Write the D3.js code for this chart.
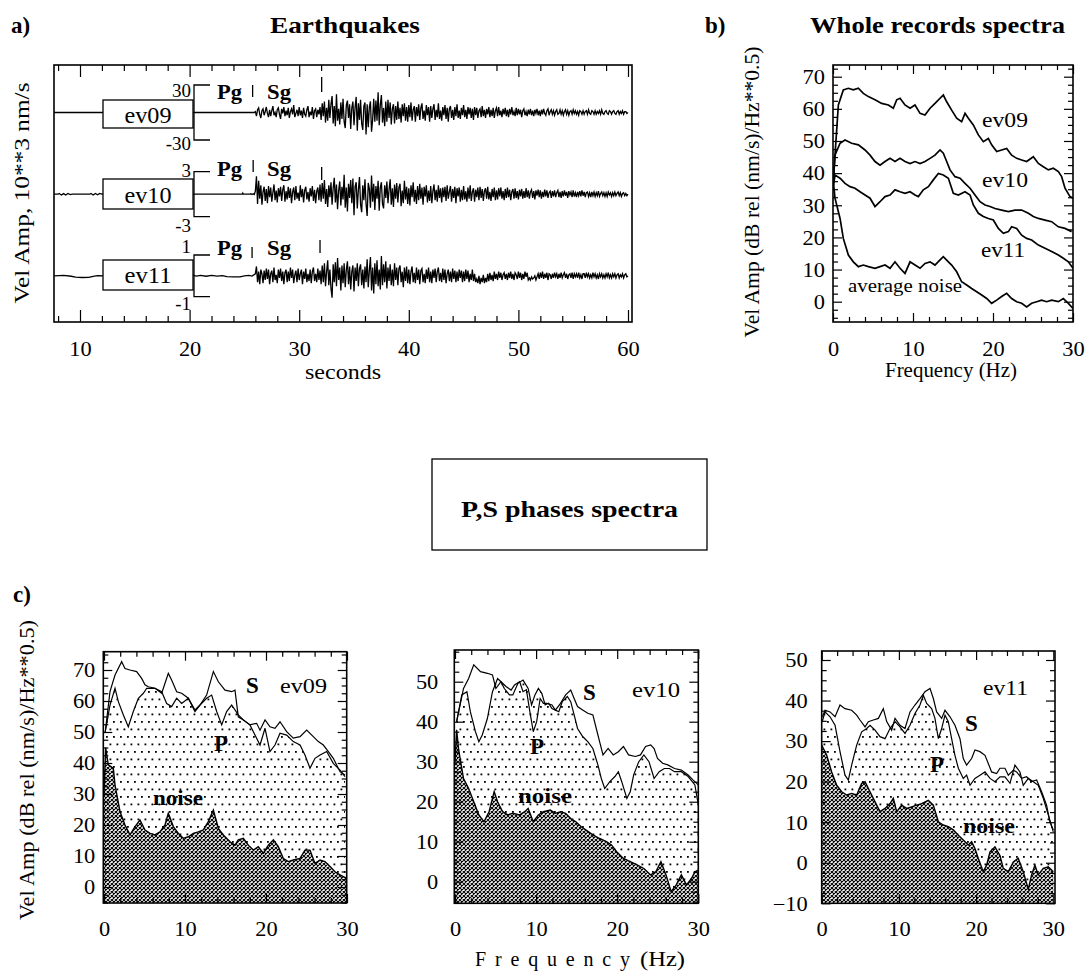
<!DOCTYPE html>
<html><head><meta charset="utf-8">
<script src="https://cdn.jsdelivr.net/npm/d3@7"></script>
<style>
body{margin:0;background:#fff;}
</style></head><body>
<svg id="chart" width="1085" height="973" font-family="'Liberation Serif', 'Times New Roman', Times, serif"></svg>
<script>
// ================= DATA =================
// Panel a: seismograms (units 10**3 nm/s), sampled every seisStep s from seisStart
const seisNames = ["ev09", "ev10", "ev11"];
const seisScale = [30, 3, 1];
const seisScaleLabels = [["30", "-30"], ["3", "-3"], ["1", "-1"]];
const seisStart = 26.0, seisStep = 0.1;
const pArrival = [25.75, 25.8, 25.7];
const sArrival = [32.05, 32.05, 31.9];
const timeTicks = [10, 20, 30, 40, 50, 60];
const timeMinorTicks = [8, 12, 14, 16, 18, 22, 24, 26, 28, 32, 34, 36, 38, 42, 44, 46, 48, 52, 54, 56, 58];

const ev09Pre = [[7.6, 0], [25.9, 0]];
const ev10Pre = [[7.6, 0], [8.0, 0], [8.1, 0.1], [8.3, -0.1], [8.5, 0.08], [8.7, -0.1], [8.9, 0.1], [9.1, -0.05], [9.3, 0],
  [10.9, 0], [11.0, 0.1], [11.2, -0.1], [11.4, 0.1], [11.6, -0.08], [11.8, 0.1], [12.0, 0], [20.3, 0], [24.8, 0],
  [24.85, 0.15], [24.9, 0], [25.5, 0], [25.6, 0.05], [25.7, -0.05], [25.8, 0.05], [25.9, -0.05]];
const ev11Pre = [[7.6, 0], [8.5, 0.02], [9.2, -0.02], [9.6, -0.06], [10.2, -0.08], [10.8, -0.07], [11.2, -0.02], [11.6, 0.01],
  [12.2, 0], [20.3, 0.03], [20.6, -0.01], [21.0, 0.02], [21.5, -0.02], [22.0, 0.02], [22.5, -0.01], [23.0, 0.01],
  [23.4, -0.04], [24.0, -0.05], [24.6, -0.05], [25.0, 0.0], [25.4, 0.02], [25.7, -0.01]];

const ev09Trace = [
1,-4,3,5,-2,-6,2,4,-3,1,
6,-1,-5,3,-4,2,7,-3,0,-5,
3,5,-2,-7,4,-1,6,-4,2,-3,
5,-6,1,4,-2,8,-5,-1,3,-4,
6,-3,2,-6,5,-2,-4,3,7,-5,
1,-3,6,-7,2,4,-5,3,-2,6,
-8,10,-4,12,-11,5,-9,14,-6,9,
18,-12,7,-15,20,-9,4,-13,11,-7,
15,-10,-17,8,13,-6,9,-18,5,12,
-14,6,17,-20,10,-8,14,-12,-19,7,
11,-24,9,-16,6,12,-21,-8,15,-10,
13,-9,22,-14,8,19,-11,5,-15,12,
-10,14,-6,11,-13,4,9,-12,7,-8,
12,-7,5,-11,9,-4,10,-9,6,-10,
8,-5,11,-9,3,7,-10,6,-4,9,
-8,5,10,-7,2,-9,8,-3,6,-10,
7,-6,4,9,-8,3,-5,10,-7,2,
-9,6,-3,8,-7,5,-10,4,7,-6,
3,-8,6,-4,9,-6,2,-7,5,-3,
8,-5,3,-7,6,-2,5,-6,4,-8,
6,-3,5,-6,2,4,-5,7,-4,3,
-6,4,-2,6,-5,3,-4,5,-6,2,
5,-4,6,-3,2,-5,4,-2,5,-4,
3,-5,4,-2,6,-3,1,-4,5,-3,
4,-2,3,-5,2,4,-3,1,-4,3,
-2,4,-3,2,-4,3,-1,4,-3,2,
-4,3,-2,4,-1,-3,2,4,-3,1,
3,-2,2,-3,1,3,-2,-1,3,-2,
2,-3,1,3,-2,2,-3,1,2,-2,
3,-1,2,-2,1,-3,2,1,-2,2,
-2,1,2,-2,3,-1,-2,2,1,-2,
2,-2,1,-1,2,-2,3,-1,-2,1,
2,-1,-2,2,1,-2,1,2,-1,-2,
1,2,-2,1,-1,2,-2,1,1,-1,
0];

const ev10Trace = [
0.4,2.4,-1.3,1.8,-0.6,1.2,-1.4,0.3,1.0,-0.9,
0.7,-1.2,1.1,-0.4,0.9,-1.0,0.2,1.3,-0.8,0.5,
-1.1,0.8,-0.3,1.0,-0.9,0.6,1.2,-1.0,0.4,-0.7,
1.0,-0.5,0.8,-1.2,0.3,0.9,-0.8,1.1,-0.6,0.2,
-0.9,1.2,-0.4,0.7,-1.1,0.5,1.0,-0.7,0.3,-1.0,
0.8,-0.3,1.1,-0.9,0.6,-1.2,0.4,0.9,-0.8,1.3,
-1.0,1.5,-0.6,1.9,-1.3,0.7,-1.7,1.2,-0.4,1.6,
-1.4,0.8,2.2,-1.1,1.3,-2.0,0.5,1.7,-1.5,1.0,
-0.7,2.6,-1.8,0.9,-2.3,1.4,-0.5,1.9,-1.2,2.1,
-2.8,1.0,1.6,-1.9,0.6,2.3,-1.4,-2.4,1.2,-0.8,
2.0,-1.3,-2.9,1.5,0.7,-1.8,2.5,-1.0,1.4,-2.1,
1.1,-0.6,1.8,-2.2,0.9,1.6,-1.3,-1.9,1.2,-0.5,
1.7,-1.2,0.6,2.0,-1.4,0.8,-1.7,1.3,-0.6,1.5,
-1.1,0.9,1.4,-1.6,0.5,-1.2,1.8,-0.7,1.0,-1.3,
0.8,-1.5,1.2,-0.4,1.6,-1.0,0.6,-1.3,1.1,-0.8,
1.4,-0.6,0.9,-1.4,1.0,-0.3,1.2,-1.1,0.5,-0.9,
1.1,-1.2,0.4,1.3,-0.8,0.6,-1.0,1.2,-0.5,0.8,
-1.1,0.9,-0.4,1.0,-0.9,1.2,-0.6,0.3,1.1,-1.0,
0.7,-0.5,1.0,-1.2,0.8,-0.3,0.9,-1.0,0.6,-0.8,
1.1,-0.7,0.4,-1.0,0.9,-0.6,1.2,-0.9,0.3,0.8,
-1.0,0.6,-0.4,0.9,-0.8,1.0,-0.5,0.7,-0.9,0.4,
0.8,-0.6,1.0,-0.7,0.3,-0.9,0.7,-0.4,0.9,-0.8,
0.5,-0.7,0.8,-0.3,0.9,-0.6,0.4,-0.8,0.7,-0.5,
0.9,-0.4,0.6,-0.8,0.3,0.7,-0.6,0.8,-0.5,0.4,
-0.7,0.6,-0.3,0.7,-0.6,0.4,-0.5,0.8,-0.4,0.5,
-0.6,0.3,0.6,-0.5,0.4,-0.7,0.5,-0.2,0.6,-0.4,
0.5,-0.6,0.3,-0.4,0.6,-0.3,0.5,-0.5,0.2,0.4,
-0.5,0.4,-0.3,0.5,-0.4,0.2,0.5,-0.4,0.3,-0.5,
0.4,-0.3,0.5,-0.2,0.3,-0.5,0.4,-0.1,0.3,-0.4,
0.5,-0.3,0.2,-0.4,0.3,-0.2,0.4,-0.3,0.5,-0.2,
0.3,-0.4,0.2,0.3,-0.3,0.2,-0.4,0.3,-0.2,0.3,
-0.3,0.2,-0.2,0.4,-0.3,0.1,0.3,-0.2,0.2,-0.3,
0.2,-0.3,0.3,-0.1,0.2,-0.3,0.2,-0.2,0.3,-0.2,
0.1,0.3,-0.2,0.2,-0.3,0.1,0.2,-0.2,0.1,-0.2,
0];

const ev11Trace = [
0.1,0.45,-0.3,0.2,-0.4,0.3,0.1,-0.35,0.25,-0.2,
0.35,-0.15,0.3,-0.4,0.1,0.25,-0.3,0.4,-0.2,0.05,
-0.35,0.3,-0.1,0.35,-0.25,0.2,-0.4,0.15,0.3,-0.3,
0.2,-0.25,0.4,-0.1,0.3,-0.35,0.05,0.25,-0.3,0.35,
-0.2,0.1,0.3,-0.4,0.2,-0.15,0.35,-0.3,0.1,-0.25,
0.3,-0.35,0.2,0.4,-0.25,0.1,-0.3,0.35,-0.2,0.25,
-0.4,0.5,-0.3,0.6,-0.5,0.2,0.75,-0.45,0.3,-0.6,
-1.05,0.55,-0.3,0.65,-0.5,0.85,-0.2,0.4,-0.7,0.5,
-0.35,0.6,-0.55,0.3,0.7,-0.4,0.45,-0.65,0.2,0.5,
-0.75,0.4,-0.25,0.6,-0.5,0.35,0.55,-0.45,0.3,-0.6,
0.45,-0.3,0.8,-0.55,0.25,0.9,-0.7,0.4,-0.85,0.6,
-0.4,0.75,-0.5,0.3,-0.65,0.95,-0.45,0.55,-0.3,0.7,
-0.6,0.4,-0.25,0.55,-0.45,0.3,-0.5,0.6,-0.2,0.4,
-0.45,0.35,0.5,-0.3,0.2,-0.55,0.4,-0.25,0.45,-0.35,
0.3,-0.4,0.2,0.45,-0.3,0.15,-0.35,0.4,-0.2,0.3,
-0.4,0.25,0.35,-0.3,0.1,-0.35,0.3,-0.15,0.4,-0.3,
0.2,-0.35,0.3,-0.1,0.35,-0.3,0.2,0.4,-0.25,0.15,
-0.3,0.35,-0.2,0.3,-0.35,0.1,0.3,-0.25,0.2,-0.3,
0.35,-0.15,0.25,-0.3,0.2,-0.25,0.3,-0.1,0.25,-0.3,
0.2,-0.25,0.3,-0.15,0.25,-0.3,0.1,-0.2,0.3,-0.25,
0.1,-0.3,-0.15,-0.35,0.0,-0.4,-0.1,-0.3,0.05,-0.35,
-0.1,-0.3,0.1,-0.25,0.15,-0.2,0.05,-0.25,0.2,-0.15,
0.1,-0.2,0.2,-0.1,0.15,-0.2,0.05,0.15,-0.15,0.1,
-0.2,0.15,-0.1,0.2,-0.15,0.1,-0.2,0.15,0.05,-0.15,
0.2,-0.1,0.15,-0.2,0.1,-0.15,0.2,-0.05,0.15,-0.2,
-0.1,-0.2,-0.05,-0.15,-0.1,0.0,-0.2,-0.05,0.1,-0.15,
0.15,-0.1,0.2,-0.15,0.1,-0.1,0.15,-0.2,0.1,0.05,
-0.15,0.1,-0.1,0.15,-0.05,0.1,-0.15,0.1,-0.1,0.15,
-0.1,0.05,0.15,-0.1,0.1,-0.15,0.05,0.1,-0.1,0.15,
-0.15,0.1,-0.05,0.1,-0.1,0.15,-0.1,0.05,-0.15,0.1,
0.1,-0.1,0.15,-0.05,0.1,-0.1,0.05,-0.1,0.15,-0.05,
0.1,-0.1,0.05,-0.15,0.1,-0.05,0.1,-0.1,0.05,-0.1,
0.1,-0.05,0.15,-0.1,0.05,-0.1,0.1,-0.05,0.1,-0.1,
0.05,0.1,-0.1,0.05,-0.05,0.1,-0.1,0.05,0.1,-0.05,
0];

// Panel b: whole-record spectra [Hz, dB]
const specB_ev09 = [[0.05,38],[0.25,45.6],[0.67,61.2],[1.29,65.9],[1.92,66.4],[2.54,65.9],[3.17,66.4],[3.79,64.8],[4.42,63.8],[5.25,62.8],[6.08,61.7],[6.92,61.2],[7.54,60.2],[7.96,62.8],[8.38,63.3],[9.0,61.2],[9.63,60.2],[10.25,61.2],[10.88,58.6],[11.5,58.1],[12.13,60.2],[12.75,61.7],[13.38,63.3],[13.79,64.3],[14.21,62.2],[14.83,59.6],[15.46,57.1],[16.08,56.0],[16.5,58.6],[16.92,57.1],[17.54,55.0],[18.17,51.9],[18.79,49.8],[19.42,50.8],[19.83,48.8],[20.46,46.7],[21.08,47.2],[21.71,47.7],[22.33,45.6],[22.96,44.6],[23.58,44.1],[24.21,43.6],[25.04,45.1],[25.67,43.0],[26.29,42.0],[26.92,41.0],[27.54,41.5],[28.17,40.5],[28.58,38.9],[29.0,35.3],[29.63,32.7],[30,32.2]];
const specB_ev10 = [[0.05,38],[0.25,45.6],[0.88,49.3],[1.5,50.3],[2.33,49.3],[3.17,48.8],[4.0,47.2],[4.63,45.6],[5.25,43.6],[5.88,42.5],[6.5,43.6],[7.13,44.6],[7.75,43.6],[8.38,44.6],[9.0,43.6],[9.63,43.0],[10.25,43.6],[10.88,43.0],[11.5,43.6],[12.13,44.6],[12.75,45.6],[13.38,47.2],[13.79,46.2],[14.21,43.6],[14.63,41.0],[15.25,38.9],[15.88,38.4],[16.5,36.8],[17.13,35.3],[17.75,33.2],[18.38,31.1],[19.0,30.1],[19.63,29.6],[20.25,29.0],[21.08,28.5],[21.92,28.0],[22.75,28.5],[23.58,28.5],[24.42,27.5],[25.04,26.5],[25.67,25.9],[26.5,25.4],[27.33,24.9],[28.17,23.3],[29.0,22.8],[29.83,21.8]];
const specB_ev11 = [[0.05,36],[0.25,39.4],[0.88,38.4],[1.5,36.8],[2.13,35.8],[2.75,35.3],[3.38,34.2],[4.0,33.2],[4.63,32.2],[5.25,29.6],[5.88,31.1],[6.5,32.7],[7.13,33.2],[7.75,34.8],[8.38,34.2],[9.0,33.7],[9.63,34.2],[10.25,33.2],[10.67,32.7],[11.29,34.8],[11.92,35.8],[12.54,37.9],[13.17,39.9],[13.79,39.4],[14.42,38.4],[15.04,33.7],[15.67,33.2],[16.5,34.2],[17.13,33.2],[17.54,30.1],[18.17,27.5],[18.79,26.5],[19.42,25.9],[20.04,25.4],[20.67,22.8],[21.29,21.3],[21.92,21.8],[22.33,23.3],[22.96,22.8],[23.58,20.7],[24.21,19.7],[24.83,19.2],[25.67,17.6],[26.5,16.6],[27.33,15.6],[28.17,14.5],[28.79,13.5],[29.42,12.4],[30,10.4]];
const specB_noise = [[0.04,37.3],[0.25,32.2],[0.88,25.9],[1.29,19.7],[1.92,14.5],[2.54,12.4],[3.17,10.9],[3.79,11.4],[4.42,10.9],[5.25,10.4],[5.88,10.9],[6.5,11.4],[7.13,10.4],[7.75,12.4],[8.38,10.4],[9.0,8.8],[9.63,12.4],[10.25,11.4],[10.88,10.4],[11.5,11.9],[12.13,12.4],[12.75,11.4],[13.38,13.0],[13.79,14.0],[14.42,12.4],[14.83,11.4],[15.46,9.3],[16.08,6.2],[16.71,5.2],[17.33,4.1],[17.96,3.1],[18.58,2.1],[19.21,1.0],[19.83,-0.5],[20.46,0.5],[21.08,1.6],[21.71,2.6],[22.33,1.0],[22.96,0.0],[23.58,-0.5],[24.21,-1.6],[24.83,-0.5],[25.46,0.0],[26.08,0.5],[26.71,0.0],[27.33,0.5],[28.17,0.0],[28.79,1.0],[29.42,-0.5],[30,-2.1]];

// Panel c: P, S and noise spectra [Hz, dB]
const c1_S = [[0.15,50],[0.74,63.0],[1.36,68.4],[2.18,72.7],[2.59,70.5],[3.21,70.0],[4.03,69.5],[4.65,67.3],[5.06,65.2],[5.47,64.6],[6.3,64.1],[7.12,62.5],[7.94,68.9],[8.35,66.8],[8.97,63.0],[9.59,62.5],[10.41,60.9],[11.23,57.1],[11.85,58.7],[12.67,61.9],[13.5,69.5],[14.12,66.2],[14.94,63.5],[15.76,63.0],[16.17,63.5],[16.58,54.9],[17.2,53.9],[18.02,52.3],[18.85,52.8],[19.26,50.6],[19.88,53.9],[20.49,51.7],[21.11,51.2],[21.73,53.3],[22.55,50.1],[23.37,48.0],[24.2,48.5],[25.02,50.6],[25.84,48.5],[26.46,46.9],[27.08,45.8],[27.7,43.7],[28.31,41.5],[29.14,37.2],[29.75,36.1]];
const c1_P = [[0.15,50],[0.74,58.7],[1.36,64.1],[1.77,59.8],[2.39,55.5],[3.0,51.7],[3.62,56.6],[4.24,60.9],[4.86,62.5],[5.27,64.1],[6.3,64.1],[7.12,63.0],[7.74,59.2],[8.35,58.2],[8.97,60.9],[9.59,59.2],[10.41,60.9],[11.23,56.6],[11.85,58.7],[12.67,60.9],[13.29,61.9],[13.91,56.6],[14.53,52.3],[15.14,56.6],[15.76,58.7],[16.58,55.5],[17.2,53.9],[18.02,52.3],[18.64,49.0],[19.26,45.8],[19.88,51.2],[20.49,43.7],[21.11,45.8],[21.73,49.6],[22.55,49.0],[23.37,46.9],[24.2,45.8],[24.81,42.6],[25.43,38.3],[26.05,41.5],[26.67,42.6],[27.49,43.7],[28.31,39.9],[29.14,37.7],[29.75,35.6]];
const c1_noise = [[0,30],[0.2,45],[0.53,39.4],[1.15,38.3],[1.36,32.9],[1.98,24.3],[2.59,20.0],[3.21,16.8],[3.83,19.5],[4.44,21.6],[5.06,18.4],[5.68,17.3],[6.3,16.8],[6.91,17.8],[7.53,20.0],[7.94,23.8],[8.56,19.5],[9.18,17.3],[9.79,15.7],[10.41,16.2],[11.03,17.3],[11.65,17.8],[12.26,18.4],[12.88,21.1],[13.5,24.8],[14.12,18.9],[14.73,16.8],[15.56,14.6],[16.17,13.5],[16.58,15.2],[17.2,15.7],[17.82,13.5],[18.44,11.9],[19.05,13.0],[19.67,10.9],[20.29,13.5],[20.91,15.2],[21.52,13.0],[22.14,9.2],[22.76,8.2],[23.37,8.7],[24.2,9.2],[24.81,11.9],[25.43,11.9],[26.05,7.6],[26.67,8.7],[27.28,8.2],[27.9,6.6],[28.52,4.9],[29.14,3.9],[29.96,2.8]];
const c2_S = [[0.2,40],[1.05,48.3],[1.68,50.8],[2.31,54.2],[3.15,52.5],[3.99,52.1],[4.62,51.7],[5.04,48.3],[5.67,50.0],[6.29,48.8],[6.92,47.9],[7.34,49.2],[7.97,50.0],[8.39,47.5],[8.8,48.0],[9.23,42.5],[9.65,37.5],[10.07,40.0],[10.5,45.8],[10.9,44.6],[11.33,44.6],[11.96,44.2],[12.38,42.9],[13.01,44.6],[13.64,46.7],[14.27,47.9],[14.69,45.8],[15.11,43.8],[15.74,42.9],[16.37,42.1],[17.0,41.7],[17.42,38.3],[17.83,35.0],[18.25,31.7],[18.88,33.3],[19.51,31.7],[20.14,32.5],[20.77,33.8],[21.4,31.7],[22.24,31.3],[22.87,31.7],[23.5,33.8],[24.13,34.2],[24.55,33.3],[24.97,30.8],[25.6,29.6],[26.23,29.2],[27.07,28.3],[27.91,27.9],[28.75,26.7],[29.37,25.4],[30,24.2]];
const c2_P = [[0.2,40],[0.84,46.7],[1.47,47.5],[1.89,42.5],[2.52,37.5],[2.94,35.0],[3.36,36.7],[3.99,40.8],[4.62,47.5],[5.25,50.8],[5.67,50.0],[6.08,48.3],[6.71,46.7],[7.13,46.7],[7.76,49.6],[8.39,50.4],[9.02,48.3],[9.44,44.2],[9.86,46.7],[10.28,48.3],[10.7,47.1],[11.12,44.2],[11.54,44.6],[11.96,43.3],[12.38,42.9],[12.8,42.5],[13.22,45.0],[13.85,46.3],[14.27,45.0],[14.69,41.7],[15.11,38.3],[15.74,36.3],[16.37,35.0],[17.0,33.3],[17.62,29.2],[18.04,25.8],[18.46,23.3],[19.09,25.0],[19.72,26.3],[20.14,27.5],[20.56,25.0],[21.19,20.8],[21.61,22.5],[22.03,26.7],[22.66,30.0],[23.29,31.7],[23.92,30.0],[24.55,25.8],[25.18,27.5],[25.81,28.3],[26.44,28.3],[27.07,27.5],[27.91,27.5],[28.75,26.3],[29.58,24.2],[30,19.2]];
const c2_noise = [[0,30],[0.2,38],[0.45,33],[0.63,30.8],[1.05,25.8],[1.68,23.3],[2.31,20.0],[2.94,16.7],[3.57,15.0],[4.2,17.5],[4.83,22.5],[5.25,20.0],[5.88,17.5],[6.5,16.7],[7.13,17.1],[7.97,16.7],[8.6,17.5],[9.02,18.3],[9.65,15.0],[10.28,16.7],[10.91,17.5],[11.75,17.9],[12.38,17.1],[13.01,17.5],[13.64,17.1],[14.27,15.8],[14.9,15.0],[15.53,13.8],[16.16,12.9],[17.0,11.7],[17.83,10.8],[18.67,10.0],[19.3,9.2],[19.93,7.5],[20.77,5.8],[21.61,5.0],[22.45,4.2],[23.29,3.3],[24.13,1.7],[24.76,2.5],[25.39,5.0],[26.02,1.7],[26.65,-2.5],[27.28,-0.8],[27.91,1.7],[28.54,-0.8],[29.16,0.8],[29.58,2.5],[30,2.9]];
const c3_S = [[0.1,36],[0.43,37.6],[1.08,37.2],[1.73,36.0],[2.37,38.9],[3.02,38.0],[3.88,37.6],[4.53,36.4],[4.96,35.2],[5.61,33.5],[6.04,34.8],[6.69,35.2],[7.34,35.6],[7.98,38.0],[8.42,34.8],[9.06,32.7],[9.5,35.6],[10.14,33.9],[10.79,33.1],[11.44,37.2],[12.08,38.9],[12.73,40.5],[13.38,42.2],[14.03,43.0],[14.46,40.5],[14.89,37.2],[15.54,35.6],[15.97,37.6],[16.62,36.0],[17.26,33.9],[17.91,30.6],[18.34,25.7],[18.77,24.1],[19.42,25.7],[19.85,27.8],[20.5,27.4],[21.15,26.5],[21.58,24.5],[22.01,22.4],[22.66,22.0],[23.09,23.3],[23.74,23.3],[24.17,21.6],[24.82,22.8],[25.25,22.4],[25.9,20.8],[26.54,21.2],[27.19,20.0],[27.84,20.4],[28.49,17.5],[29.13,14.2],[29.56,10.1],[30,8.1]];
const c3_P = [[0.1,35],[0.43,37.2],[1.08,36.0],[1.73,33.9],[2.37,27.4],[3.02,21.6],[3.45,20.4],[3.88,24.1],[4.53,29.0],[5.18,32.3],[5.83,33.1],[6.26,33.9],[6.91,32.7],[7.55,31.1],[8.2,30.6],[8.85,33.1],[9.5,34.8],[10.14,33.5],[10.79,31.9],[11.44,33.9],[12.08,36.8],[12.73,38.9],[13.16,41.3],[13.6,39.3],[14.24,38.0],[14.67,35.6],[15.11,30.6],[15.54,33.1],[15.97,36.4],[16.4,34.8],[16.83,30.6],[17.26,26.5],[17.7,23.3],[18.34,20.8],[18.77,21.6],[19.21,19.1],[19.85,20.8],[20.5,21.6],[21.15,22.4],[21.8,20.8],[22.44,20.0],[23.09,21.2],[23.74,21.2],[24.39,19.6],[25.03,24.1],[25.68,22.4],[26.11,19.1],[26.76,20.8],[27.41,20.0],[28.05,19.1],[28.7,15.9],[29.35,11.8],[30,7.6]];
const c3_noise = [[0,29.0],[0.65,26.5],[1.29,22.4],[1.94,19.1],[2.59,17.5],[3.24,16.7],[3.88,17.1],[4.53,16.7],[5.18,19.6],[5.61,20.0],[6.26,17.5],[6.91,15.0],[7.55,12.6],[8.2,13.4],[8.85,14.6],[9.28,15.9],[9.71,12.6],[10.36,14.2],[11.01,13.4],[11.65,13.8],[12.3,14.2],[12.95,14.6],[13.81,15.4],[14.46,14.2],[15.11,10.1],[15.75,9.3],[16.4,8.9],[17.05,8.1],[17.7,6.8],[18.34,5.6],[18.99,4.4],[19.42,5.2],[19.85,3.5],[20.28,1.1],[20.93,-2.2],[21.36,-0.6],[21.8,2.7],[22.44,3.9],[23.09,1.8],[23.52,-1.4],[24.17,-2.2],[24.82,0.2],[25.46,1.1],[26.11,-2.2],[26.76,-6.5],[27.19,-3.0],[27.62,-0.6],[28.05,-3.0],[28.7,-1.4],[29.35,-1.0],[30,-2.2]];

const freqTicks = [0, 10, 20, 30];
const freqMinorTicks = [2, 4, 6, 8, 12, 14, 16, 18, 22, 24, 26, 28];
const dbTicksB = [0, 10, 20, 30, 40, 50, 60, 70];
const dbTicksC1 = [0, 10, 20, 30, 40, 50, 60, 70];
const dbTicksC2 = [0, 10, 20, 30, 40, 50];
const dbTicksC3 = [-10, 0, 10, 20, 30, 40, 50];

// ================= DRAWING =================
const FONT = "'Liberation Serif', 'Times New Roman', Times, serif";
const svg = d3.select('#chart');
svg.append('rect').attr('width', 1085).attr('height', 973).attr('fill', '#fff');
const defs = svg.append('defs');
const pd = defs.append('pattern').attr('id', 'dots').attr('patternUnits', 'userSpaceOnUse').attr('width', 7).attr('height', 15);
pd.append('rect').attr('width', 7).attr('height', 15).attr('fill', '#fff');
pd.append('rect').attr('x', 1).attr('y', 1).attr('width', 1.8).attr('height', 1.8).attr('fill', '#000');
pd.append('rect').attr('x', 4.5).attr('y', 8.5).attr('width', 1.8).attr('height', 1.8).attr('fill', '#000');
const ph = defs.append('pattern').attr('id', 'hatch').attr('patternUnits', 'userSpaceOnUse').attr('width', 4).attr('height', 4);
ph.append('rect').attr('width', 4).attr('height', 4).attr('fill', '#fff');
ph.append('path').attr('d', 'M-1,-1L5,5M5,-1L-1,5').attr('stroke', '#000').attr('stroke-width', 1.05);

function label(g, s, x, y, o = {}) {
  const t = g.append('text').attr('x', x).attr('y', y).attr('text-anchor', o.anchor || 'start')
    .style('font-family', FONT).style('fill', '#000')
    .style('font-size', (o.size || 20) + 'px').style('font-weight', o.bold ? 'bold' : 'normal').text(s);
  if (o.len) t.attr('textLength', o.len).attr('lengthAdjust', 'spacingAndGlyphs');
  if (o.rotate) t.attr('transform', `rotate(${o.rotate},${x},${y})`);
  return t;
}

function tickSet(g, axisFn, scale, vals, len, transform) {
  const a = axisFn(scale).tickValues(vals).tickSizeInner(-len).tickSizeOuter(0).tickFormat('');
  const gg = g.append('g').attr('transform', transform).call(a);
  gg.select('.domain').remove();
  gg.selectAll('line').attr('stroke', '#000').attr('stroke-width', 1.2);
  return gg;
}
function bottomLabels(g, scale, vals, yBase, off) {
  const gg = g.append('g').attr('transform', `translate(0,${yBase})`)
    .call(d3.axisBottom(scale).tickValues(vals).tickSize(0).tickFormat(d3.format('d')));
  gg.select('.domain').remove();
  gg.selectAll('text').attr('y', off).attr('dy', null).style('font-size', '20px')
    .style('font-family', FONT).style('fill', '#000').attr('transform', 'scale(1.12,1)');
}
function leftLabels(g, scale, vals, xBase, gap) {
  const gg = g.append('g').attr('transform', `translate(${xBase},0)`)
    .call(d3.axisLeft(scale).tickValues(vals).tickSize(0).tickFormat(d3.format('d')));
  gg.select('.domain').remove();
  gg.selectAll('text').attr('x', -gap / 1.12).attr('dy', '0.34em').style('font-size', '20px')
    .style('font-family', FONT).style('fill', '#000').attr('transform', 'scale(1.12,1)');
}

// ---------- titles ----------
label(svg, 'a)', 11, 33, {size: 23, bold: true});
label(svg, 'Earthquakes', 345, 33, {size: 23, bold: true, anchor: 'middle', len: 150});
label(svg, 'b)', 705, 33, {size: 23, bold: true});
label(svg, 'Whole records spectra', 937.5, 33, {size: 23, bold: true, anchor: 'middle', len: 255});
label(svg, 'c)', 13, 602, {size: 23, bold: true});
svg.append('rect').attr('x', 432).attr('y', 459).attr('width', 275).attr('height', 91)
  .attr('fill', 'none').attr('stroke', '#000').attr('stroke-width', 1.3);
label(svg, 'P,S phases spectra', 569.5, 517, {size: 23, bold: true, anchor: 'middle', len: 217});

// ---------- panel a ----------
const frA = {l: 54, r: 632, t: 65, b: 322};
const xA = d3.scaleLinear().domain([10, 60]).range([80, 628]);
const gA = svg.append('g');
const traceLayout = [
  {range: [140, 85], box: [100, 28], lab: [97, 150], txt: 123, pg: 99, pm: [85, 97], sm: [77, 92]},
  {range: [216.7, 171.7], box: [179, 30], lab: [177, 232], txt: 203, pg: 176, pm: [160, 172], sm: [167, 180]},
  {range: [296.7, 255], box: [260, 30], lab: [253, 310], txt: 283, pg: 255, pm: [247, 258], sm: [240, 253]}
];
const traces = [ev09Trace, ev10Trace, ev11Trace];
const pres = [ev09Pre, ev10Pre, ev11Pre];
defs.append('clipPath').attr('id', 'clipA').append('rect')
  .attr('x', frA.l).attr('y', frA.t).attr('width', frA.r - frA.l).attr('height', frA.b - frA.t);
seisNames.forEach((name, i) => {
  const L = traceLayout[i];
  const y = d3.scaleLinear().domain([-seisScale[i], seisScale[i]]).range(L.range);
  const pts = pres[i].concat(traces[i].map((v, k) => [seisStart + k * seisStep, v]));
  gA.append('path').attr('clip-path', 'url(#clipA)')
    .attr('d', d3.line().x(d => xA(d[0])).y(d => y(d[1]))(pts))
    .attr('fill', 'none').attr('stroke', '#000').attr('stroke-width', 1.3).attr('stroke-linejoin', 'miter');
  gA.append('rect').attr('x', 103).attr('y', L.box[0]).attr('width', 90).attr('height', L.box[1])
    .attr('fill', '#fff').attr('stroke', '#000').attr('stroke-width', 1.3);
  label(gA, name, 148, L.txt, {size: 23, anchor: 'middle', len: 47});
  const yt = y(seisScale[i]), yb = y(-seisScale[i]);
  gA.append('path').attr('d', `M210,${yt}H194V${yb}H210`).attr('fill', 'none').attr('stroke', '#000').attr('stroke-width', 1.3);
  label(gA, seisScaleLabels[i][0], 191, L.lab[0], {size: 19, anchor: 'end'});
  label(gA, seisScaleLabels[i][1], 191, L.lab[1], {size: 19, anchor: 'end'});
  label(gA, 'Pg', 217, L.pg, {size: 22, bold: true, len: 25});
  label(gA, 'Sg', 267, L.pg, {size: 22, bold: true, len: 24});
  gA.append('line').attr('x1', xA(pArrival[i])).attr('x2', xA(pArrival[i])).attr('y1', L.pm[0]).attr('y2', L.pm[1])
    .attr('stroke', '#000').attr('stroke-width', 1.3);
  gA.append('line').attr('x1', xA(sArrival[i])).attr('x2', xA(sArrival[i])).attr('y1', L.sm[0]).attr('y2', L.sm[1])
    .attr('stroke', '#000').attr('stroke-width', 1.3);
});
gA.append('rect').attr('x', frA.l).attr('y', frA.t).attr('width', frA.r - frA.l).attr('height', frA.b - frA.t)
  .attr('fill', 'none').attr('stroke', '#000').attr('stroke-width', 1.6);
tickSet(gA, d3.axisBottom, xA, timeMinorTicks, 6, `translate(0,${frA.b})`);
tickSet(gA, d3.axisBottom, xA, timeTicks, 12, `translate(0,${frA.b})`);
tickSet(gA, d3.axisTop, xA, timeMinorTicks, 6, `translate(0,${frA.t})`);
tickSet(gA, d3.axisTop, xA, timeTicks, 12, `translate(0,${frA.t})`);
bottomLabels(gA, xA, timeTicks, frA.b, 34);
label(gA, 'seconds', 343, 379, {size: 20, anchor: 'middle', len: 76});
label(gA, 'Vel Amp, 10**3 nm/s', 29, 193, {size: 21, anchor: 'middle', rotate: -90, len: 221});

// ---------- spectra panels ----------
function spectrumPanel(p) {
  const g = svg.append('g');
  const fr = p.fr;
  defs.append('clipPath').attr('id', 'clip' + p.id).append('rect')
    .attr('x', fr.l).attr('y', fr.t).attr('width', fr.r - fr.l).attr('height', fr.b - fr.t);
  const inner = g.append('g').attr('clip-path', `url(#clip${p.id})`);
  const x = p.x, y = p.y;
  const line = d3.line().x(d => x(d[0])).y(d => y(d[1]));
  const area = d3.area().x(d => x(d[0])).y0(fr.b).y1(d => y(d[1]));
  if (p.P) {
    inner.append('path').attr('d', area(p.P)).attr('fill', 'url(#dots)');
    inner.append('path').attr('d', area(p.noise)).attr('fill', 'url(#hatch)');
    inner.append('path').attr('d', line(p.noise)).attr('fill', 'none').attr('stroke', '#000').attr('stroke-width', 1.4);
    inner.append('path').attr('d', line(p.P)).attr('fill', 'none').attr('stroke', '#000').attr('stroke-width', 1.2);
    inner.append('path').attr('d', line(p.S)).attr('fill', 'none').attr('stroke', '#000').attr('stroke-width', 1.2);
  } else {
    p.lines.forEach(d => inner.append('path').attr('d', line(d)).attr('fill', 'none')
      .attr('stroke', '#000').attr('stroke-width', 1.7).attr('stroke-linejoin', 'miter'));
  }
  g.append('rect').attr('x', fr.l).attr('y', fr.t).attr('width', fr.r - fr.l).attr('height', fr.b - fr.t)
    .attr('fill', 'none').attr('stroke', '#000').attr('stroke-width', 1.6);
  const lo = y.invert(fr.b), hi = y.invert(fr.t);
  const dbMinor = d3.range(Math.ceil(lo / 2.5) * 2.5, hi, 2.5).filter(v => p.dbTicks.indexOf(v) < 0);
  tickSet(g, d3.axisBottom, x, freqMinorTicks, 5, `translate(0,${fr.b})`);
  tickSet(g, d3.axisBottom, x, freqTicks, 9, `translate(0,${fr.b})`);
  tickSet(g, d3.axisTop, x, freqMinorTicks, 5, `translate(0,${fr.t})`);
  tickSet(g, d3.axisTop, x, freqTicks, 9, `translate(0,${fr.t})`);
  tickSet(g, d3.axisLeft, y, dbMinor, 5, `translate(${fr.l},0)`);
  tickSet(g, d3.axisLeft, y, p.dbTicks, 9, `translate(${fr.l},0)`);
  tickSet(g, d3.axisRight, y, dbMinor, 5, `translate(${fr.r},0)`);
  tickSet(g, d3.axisRight, y, p.dbTicks, 9, `translate(${fr.r},0)`);
  bottomLabels(g, x, freqTicks, fr.b, p.xOff);
  leftLabels(g, y, p.dbTicks, fr.l, p.gap);
  (p.labels || []).forEach(l => label(g, l[0], l[1], l[2], l[3]));
  return g;
}

spectrumPanel({
  id: 'B', fr: {l: 833, r: 1073, t: 65, b: 322},
  x: d3.scaleLinear().domain([0, 30]).range([833, 1073]),
  y: d3.scaleLinear().domain([0, 70]).range([301.7, 76.7]),
  lines: [specB_ev09, specB_ev10, specB_ev11, specB_noise],
  dbTicks: dbTicksB, xOff: 34, gap: 8,
  labels: [
    ['ev09', 982, 127, {size: 21, len: 46}],
    ['ev10', 982, 187, {size: 21, len: 46}],
    ['ev11', 981, 257, {size: 21, len: 44}],
    ['average noise', 848, 292, {size: 19, len: 114}],
    ['Frequency (Hz)', 951, 377, {size: 20, anchor: 'middle', len: 132}],
    ['Vel Amp (dB rel (nm/s)/Hz**0.5)', 759, 192, {size: 20, anchor: 'middle', rotate: -90, len: 291}]
  ]
});

spectrumPanel({
  id: 'C1', fr: {l: 103.3, r: 346.7, t: 651.7, b: 903},
  x: d3.scaleLinear().domain([0, 30]).range([104, 347]),
  y: d3.scaleLinear().domain([0, 70]).range([887, 670]),
  S: c1_S, P: c1_P, noise: c1_noise,
  dbTicks: dbTicksC1, xOff: 33, gap: 8,
  labels: [
    ['S', 246, 693, {size: 23, bold: true}],
    ['ev09', 280, 693, {size: 21, len: 47}],
    ['P', 214, 751, {size: 23, bold: true}],
    ['noise', 153, 805, {size: 21, bold: true, len: 50}],
    ['Vel Amp (dB rel (nm/s)/Hz**0.5)', 34, 770, {size: 20, anchor: 'middle', rotate: -90, len: 300}]
  ]
});

spectrumPanel({
  id: 'C2', fr: {l: 454.3, r: 698.3, t: 650, b: 903.3},
  x: d3.scaleLinear().domain([0, 30]).range([455, 698.3]),
  y: d3.scaleLinear().domain([0, 50]).range([881.7, 681.7]),
  S: c2_S, P: c2_P, noise: c2_noise,
  dbTicks: dbTicksC2, xOff: 33, gap: 16,
  labels: [
    ['S', 583, 700, {size: 23, bold: true}],
    ['ev10', 632, 697, {size: 21, len: 48}],
    ['P', 530, 754, {size: 23, bold: true}],
    ['noise', 518, 803, {size: 21, bold: true, len: 54}]
  ]
});

spectrumPanel({
  id: 'C3', fr: {l: 821.7, r: 1055, t: 651, b: 903.3},
  x: d3.scaleLinear().domain([0, 30]).range([821.7, 1053.3]),
  y: d3.scaleLinear().domain([-10, 50]).range([903.3, 660]),
  S: c3_S, P: c3_P, noise: c3_noise,
  dbTicks: dbTicksC3, xOff: 33, gap: 14,
  labels: [
    ['ev11', 983, 695, {size: 21, len: 45}],
    ['S', 965, 731, {size: 23, bold: true}],
    ['P', 930, 772, {size: 23, bold: true}],
    ['noise', 963, 833, {size: 21, bold: true, len: 52}]
  ]
});

const fq = svg.append('text').attr('y', 966).style('font-size', '20px').style('font-family', FONT).style('fill', '#000');
fq.append('tspan').attr('x', 475).attr('textLength', 155).attr('lengthAdjust', 'spacing').text('Frequency');
fq.append('tspan').attr('x', 640).attr('textLength', 45).attr('lengthAdjust', 'spacingAndGlyphs').text('(Hz)');
</script>
</body></html>
